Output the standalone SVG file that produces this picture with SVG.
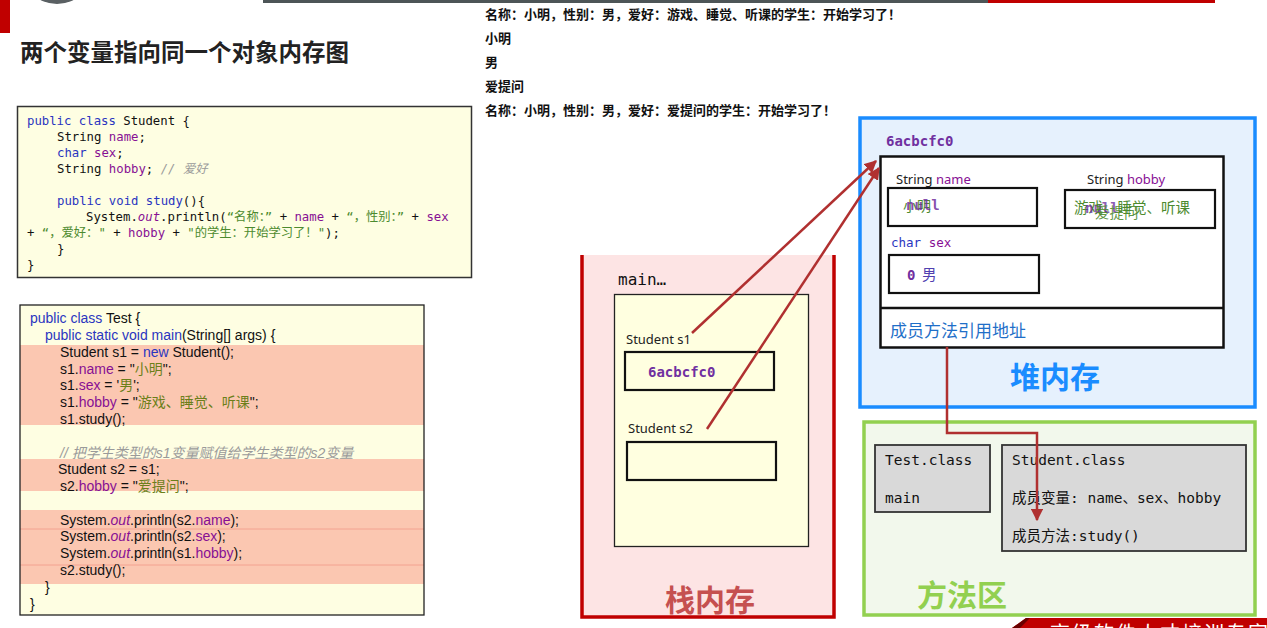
<svg xmlns="http://www.w3.org/2000/svg" width="1267" height="628" viewBox="0 0 1267 628">
<defs>
<style>
.mono{font-family:"DejaVu Sans Mono","Liberation Mono","Noto Sans CJK SC",monospace}
.c1{font-size:12.3px;fill:#111}
.sans{font-family:"Liberation Sans","Noto Sans CJK SC",sans-serif}
.c2{font-size:14px;fill:#111}
.cjk{font-family:"Noto Sans CJK SC",sans-serif}
.kw{fill:#2a35c0}
.fld{fill:#871094}
.str{fill:#4c8a2e}
.str2{fill:#6b7f1a}
.cm{fill:#9a9a9a;font-style:italic}
.it{font-style:italic}
.addr{font-family:"DejaVu Sans Mono","Liberation Mono",monospace;font-weight:bold;font-size:14px;fill:#7030a0}
.lbl{font-family:"Noto Sans","DejaVu Sans","Noto Sans CJK SC",sans-serif;font-size:13px;fill:#222}
.box{fill:none;stroke:#111;stroke-width:2.2}
.gbox{fill:#d9d9d9;stroke:#333;stroke-width:1.8}
.ma{font-family:"DejaVu Sans Mono","Noto Sans CJK SC",monospace;font-size:14.5px;fill:#111}
.out{font-family:"Noto Sans CJK SC",sans-serif;font-weight:bold;font-size:13px;fill:#111}
.big{font-family:"Noto Sans CJK SC",sans-serif;font-weight:bold;font-size:30px}
.conn{fill:none;stroke:#b03030;stroke-width:2.5}
</style>
<marker id="ah" viewBox="0 0 10 10" refX="9" refY="5" markerWidth="5" markerHeight="5" orient="auto" markerUnits="strokeWidth">
<path d="M0,0 L10,5 L0,10 z" fill="#b03030"/>
</marker>
</defs>
<rect width="1267" height="628" fill="#ffffff"/>

<g id="decor">
<rect x="0" y="0" width="10" height="33" fill="#c00000"/>
<circle cx="57" cy="-32" r="36" fill="#5a6063"/>
<rect x="263" y="0" width="725" height="3" fill="#4d5557"/>
<rect x="988" y="0" width="227" height="3" fill="#c00000"/>
<polygon points="1012,628 1026,618 1267,618 1267,628" fill="#c00000"/>
<polygon points="1012,628 1026,618 1030,618 1020,628" fill="#6a0000"/>
<text x="1050" y="641" font-family="Noto Sans CJK SC,serif" font-size="20" letter-spacing="2" fill="#ffffff">高级软件人才培训专家</text>
</g>

<g id="title">
<text x="20" y="61" font-family="Noto Sans CJK SC,sans-serif" font-weight="bold" font-size="23.5" fill="#222">两个变量指向同一个对象内存图</text>
</g>

<g id="output">
<text class="out" x="485" y="19">名称：小明，性别：男，爱好：游戏、睡觉、听课的学生：开始学习了！</text>
<text class="out" x="485" y="43">小明</text>
<text class="out" x="485" y="67">男</text>
<text class="out" x="485" y="91">爱提问</text>
<text class="out" x="485" y="115">名称：小明，性别：男，爱好：爱提问的学生：开始学习了！</text>
</g>

<g id="code-student">
<rect x="17.5" y="106.5" width="454" height="171" fill="#fefee2" stroke="#333" stroke-width="1.5"/>
<text class="mono c1" x="27" y="125"><tspan class="kw">public class</tspan> Student {</text>
<text class="mono c1" x="57" y="141">String <tspan class="fld">name</tspan>;</text>
<text class="mono c1" x="57" y="157"><tspan class="kw">char</tspan> <tspan class="fld">sex</tspan>;</text>
<text class="mono c1" x="57" y="173">String <tspan class="fld">hobby</tspan>; <tspan class="cm">// 爱好</tspan></text>
<text class="mono c1" x="57" y="205"><tspan class="kw">public void study</tspan>(){</text>
<text class="mono c1" x="86" y="221">System.<tspan class="fld it">out</tspan>.println(<tspan class="str">“名称：”</tspan> + <tspan class="fld">name</tspan> + <tspan class="str">“，性别：”</tspan> + <tspan class="fld">sex</tspan></text>
<text class="mono c1" x="27" y="237">+ <tspan class="str">“，爱好："</tspan> + <tspan class="fld">hobby</tspan> + <tspan class="str">"的学生：开始学习了！"</tspan>);</text>
<text class="mono c1" x="57" y="253">}</text>
<text class="mono c1" x="27" y="269">}</text>
</g>

<g id="code-test">
<rect x="20" y="305" width="404" height="310" fill="#fefee2"/>
<rect x="20" y="345" width="404" height="80" fill="#fbc7b1"/>
<rect x="20" y="459" width="404" height="32" fill="#fbc7b1"/>
<rect x="20" y="510" width="404" height="74" fill="#fbc7b1"/>
<line x1="20" y1="529" x2="424" y2="529" stroke="#f29a88" stroke-width="0.8"/>
<line x1="20" y1="565" x2="424" y2="565" stroke="#f29a88" stroke-width="0.8"/>
<rect x="20" y="305" width="404" height="310" fill="none" stroke="#222" stroke-width="1.3"/>
<text class="sans c2" x="30" y="323"><tspan class="kw">public class</tspan> Test {</text>
<text class="sans c2" x="45" y="340"><tspan class="kw">public static void main</tspan>(String[] args) {</text>
<text class="sans c2" x="60" y="357">Student s1 = <tspan class="kw">new</tspan> Student();</text>
<text class="sans c2" x="60" y="374">s1.<tspan class="fld">name</tspan> = "<tspan class="str2">小明</tspan>";</text>
<text class="sans c2" x="60" y="390">s1.<tspan class="fld">sex</tspan> = '<tspan class="str2">男</tspan>';</text>
<text class="sans c2" x="60" y="407">s1.<tspan class="fld">hobby</tspan> = "<tspan class="str2">游戏、睡觉、听课</tspan>";</text>
<text class="sans c2" x="60" y="424">s1.study();</text>
<text class="sans c2 cm" x="60" y="458">// 把学生类型的s1变量赋值给学生类型的s2变量</text>
<text class="sans c2" x="58" y="474">Student s2 = s1;</text>
<text class="sans c2" x="60" y="491">s2.<tspan class="fld">hobby</tspan> = "<tspan class="str2">爱提问</tspan>";</text>
<text class="sans c2" x="60" y="525">System.<tspan class="fld it">out</tspan>.println(s2.<tspan class="fld">name</tspan>);</text>
<text class="sans c2" x="60" y="541">System.<tspan class="fld it">out</tspan>.println(s2.<tspan class="fld">sex</tspan>);</text>
<text class="sans c2" x="60" y="558">System.<tspan class="fld it">out</tspan>.println(s1.<tspan class="fld">hobby</tspan>);</text>
<text class="sans c2" x="60" y="575">s2.study();</text>
<text class="sans c2" x="45" y="592">}</text>
<text class="sans c2" x="30" y="609">}</text>
</g>

<g id="stack">
<rect x="581" y="255" width="253" height="362" fill="#fde4e4"/>
<path d="M582,255 V617 H834 V255" fill="none" stroke="#c00000" stroke-width="3.5"/>
<text x="618" y="285" font-family="DejaVu Sans Mono,monospace" font-size="16" fill="#111">main…</text>
<rect x="614.5" y="294.5" width="194" height="252" fill="#ffffe0" stroke="#222" stroke-width="1.3"/>
<text class="lbl" x="626" y="344">Student  s1</text>
<rect x="625" y="352" width="149" height="38" class="box"/>
<text class="addr" x="648" y="377">6acbcfc0</text>
<text class="lbl" x="628" y="433">Student s2</text>
<rect x="627" y="442" width="149" height="38" class="box"/>
<text class="big" x="665" y="611" fill="#c55050">栈内存</text>
</g>

<g id="heap">
<rect x="860" y="118" width="395" height="289" fill="#e6f1fd" stroke="#1a8cff" stroke-width="3.5"/>
<text class="addr" x="886" y="146">6acbcfc0</text>
<rect x="880.5" y="156.5" width="343" height="191" fill="#ffffff" stroke="#111" stroke-width="2.5"/>
<line x1="880.5" y1="308" x2="1223.5" y2="308" stroke="#111" stroke-width="2.5"/>
<text class="lbl" x="896" y="184">String <tspan class="fld">name</tspan></text>
<rect x="888" y="188" width="149" height="38" class="box"/>
<text x="903" y="211" font-family="Noto Sans CJK SC,sans-serif" font-size="14" fill="#4c8a2e">小明</text>
<text x="906" y="210" font-family="DejaVu Sans Mono,monospace" font-weight="bold" font-size="14" fill="#7030a0" fill-opacity="0.85">null</text>
<text class="lbl" x="1087" y="184">String <tspan class="fld">hobby</tspan></text>
<rect x="1065" y="190" width="150" height="38" class="box"/>
<text x="1074" y="213" font-family="Noto Sans CJK SC,sans-serif" font-size="14.5" fill="#4c8a2e">游戏、睡觉、听课</text>
<text x="1085" y="213" font-family="DejaVu Sans Mono,monospace" font-weight="bold" font-size="14" fill="#7030a0" fill-opacity="0.8">null</text>
<text x="1095" y="218" font-family="Noto Sans CJK SC,sans-serif" font-size="14.5" fill="#4c8a2e" fill-opacity="0.9">爱提问</text>
<text x="891" y="247" font-family="DejaVu Sans Mono,monospace" font-size="12.5"><tspan class="kw">char</tspan> <tspan class="fld">sex</tspan></text>
<rect x="889" y="255" width="150" height="38" class="box"/>
<text x="907" y="280" font-family="DejaVu Sans Mono,monospace" font-weight="bold" font-size="14" fill="#7030a0">0</text>
<text x="922" y="280" font-family="Noto Sans CJK SC,sans-serif" font-size="14.5" fill="#5040b0">男</text>
<text x="890" y="337" font-family="Noto Sans CJK SC,sans-serif" font-size="17" fill="#1f6fc8">成员方法引用地址</text>
<text class="big" x="1010" y="388" fill="#1a8cff">堆内存</text>
</g>

<g id="method-area">
<rect x="864" y="422" width="391" height="193" fill="#f2f8ec" stroke="#92d050" stroke-width="3.5"/>
<rect x="875" y="445" width="115" height="67" class="gbox"/>
<text class="ma" x="885" y="465">Test.class</text>
<text class="ma" x="885" y="503">main</text>
<rect x="1002" y="445" width="244" height="106" class="gbox"/>
<text class="ma" x="1012" y="465">Student.class</text>
<text class="ma" x="1012" y="503">成员变量: name、sex、hobby</text>
<text class="ma" x="1012" y="541">成员方法:study()</text>
<text class="big" x="917" y="606" font-size="31" fill="#92d050">方法区</text>
</g>

<g id="connectors">
<line class="conn" x1="692" y1="333" x2="876" y2="161" marker-end="url(#ah)"/>
<line class="conn" x1="707" y1="429" x2="879" y2="168" marker-end="url(#ah)"/>
<polyline class="conn" points="947,347 947,433 1037,433 1037,520" marker-end="url(#ah)"/>
</g>
</svg>
